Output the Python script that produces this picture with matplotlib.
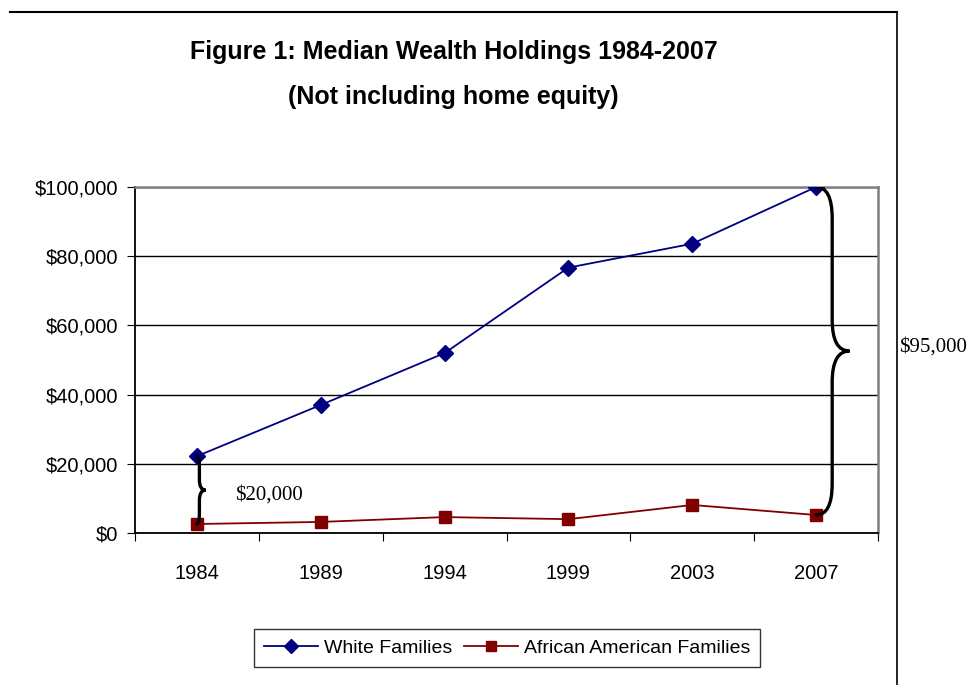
import matplotlib
matplotlib.use("Agg")
import matplotlib.pyplot as plt
from matplotlib.path import Path
from matplotlib.patches import PathPatch
from matplotlib.lines import Line2D
from matplotlib.ticker import FuncFormatter, FixedLocator

years = ["1984", "1989", "1994", "1999", "2003", "2007"]
white = [22200, 37000, 52000, 76700, 83600, 100000]
black = [2600, 3200, 4600, 4000, 8100, 5200]
gap_labels = ["$20,000", "$95,000"]

SANS = ["Liberation Sans", "DejaVu Sans"]
NARROW = ["Liberation Sans Narrow", "Liberation Sans", "DejaVu Sans"]
SERIF = ["Liberation Serif", "DejaVu Serif"]


def brace(ax, x0, ytop, ybot, w, tip, r):
    # curly brace opening to the left, drawn in data coordinates
    x1 = x0 + w
    xt = x0 + tip
    ym = (ytop + ybot) / 2
    verts = [(x0, ytop), (x1, ytop), (x1, ytop - r),
             (x1, ym + r),
             (x1, ym), (xt, ym),
             (x1, ym), (x1, ym - r),
             (x1, ybot + r),
             (x1, ybot), (x0, ybot)]
    codes = [Path.MOVETO, Path.CURVE3, Path.CURVE3,
             Path.LINETO,
             Path.CURVE3, Path.CURVE3,
             Path.CURVE3, Path.CURVE3,
             Path.LINETO,
             Path.CURVE3, Path.CURVE3]
    ax.add_patch(PathPatch(Path(verts, codes), fill=False, lw=2.4,
                           edgecolor="black", capstyle="round", zorder=5))


fig = plt.figure(figsize=(9.71, 6.85), dpi=100)

# outer frame lines (top and right)
fig.add_artist(Line2D([10 / 971, 897 / 971], [1 - 12 / 685, 1 - 12 / 685],
                      transform=fig.transFigure, color="black", lw=1.5))
fig.add_artist(Line2D([897 / 971, 897 / 971], [0, 1 - 12 / 685],
                      transform=fig.transFigure, color="black", lw=1.2))

fig.text(0.467, 1 - 52 / 685, "Figure 1: Median Wealth Holdings 1984-2007",
         ha="center", va="center", fontsize=18, fontweight="bold", family=NARROW)
fig.text(0.467, 1 - 97 / 685, "(Not including home equity)",
         ha="center", va="center", fontsize=18, fontweight="bold", family=NARROW)

ax = fig.add_axes([135 / 971, 1 - 533 / 685, (878 - 135) / 971, (533 - 187) / 685])
x = list(range(len(years)))

ax.plot(x, white, color="#000080", lw=1.3, marker="D", markersize=8,
        label="White Families", zorder=4)
ax.plot(x, black, color="#800000", lw=1.3, marker="s", markersize=8,
        label="African American Families", zorder=4)

ax.set_xlim(-0.5, len(years) - 0.5)
ax.set_ylim(0, 100000)
ax.set_yticks(range(0, 100001, 20000))
ax.yaxis.set_major_formatter(FuncFormatter(lambda v, p: f"${int(v):,}"))
ax.yaxis.grid(True, color="black", lw=1)
ax.set_axisbelow(True)

ax.xaxis.set_major_locator(FixedLocator([i - 0.5 for i in range(len(years) + 1)]))
ax.xaxis.set_major_formatter(FuncFormatter(lambda v, p: ""))
ax.set_xticks(x, minor=True)
ax.set_xticklabels(years, minor=True)
ax.tick_params(axis="x", which="minor", length=0, pad=22)
ax.tick_params(axis="x", which="major", length=6, direction="out", color="black")
ax.tick_params(axis="y", length=6, direction="out", pad=6)
for lab in ax.get_xticklabels(minor=True) + ax.get_yticklabels():
    lab.set_fontsize(14.5)
    lab.set_family(SANS)

ax.spines["left"].set_color("black")
ax.spines["bottom"].set_color("black")
ax.spines["left"].set_linewidth(1.3)
ax.spines["bottom"].set_linewidth(1.3)
ax.spines["top"].set_color("#808080")
ax.spines["right"].set_color("#808080")
ax.spines["top"].set_linewidth(1.8)
ax.spines["right"].set_linewidth(1.8)

# gap braces
brace(ax, 0, white[0], black[0], 0.02, 0.07, 3000)
brace(ax, 5, white[5], black[5], 0.13, 0.27, 9000)
ax.text(0.31, (white[0] + black[0]) / 2 - 1500, gap_labels[0], fontsize=15,
        family=SERIF, ha="left", va="center")
ax.text(5.67, (white[5] + black[5]) / 2 + 1000, gap_labels[1], fontsize=15,
        family=SERIF, ha="left", va="center", clip_on=False)

leg = fig.legend(loc="center", bbox_to_anchor=(507 / 971, 1 - 648 / 685), ncol=2,
                 prop={"family": SANS, "size": 14}, frameon=True, fancybox=False,
                 edgecolor="black", handlelength=2.8, columnspacing=0.6,
                 handletextpad=0.3, borderpad=0.5, markerscale=0.9)
leg.get_frame().set_linewidth(1)

fig.savefig("out.png", dpi=100)
